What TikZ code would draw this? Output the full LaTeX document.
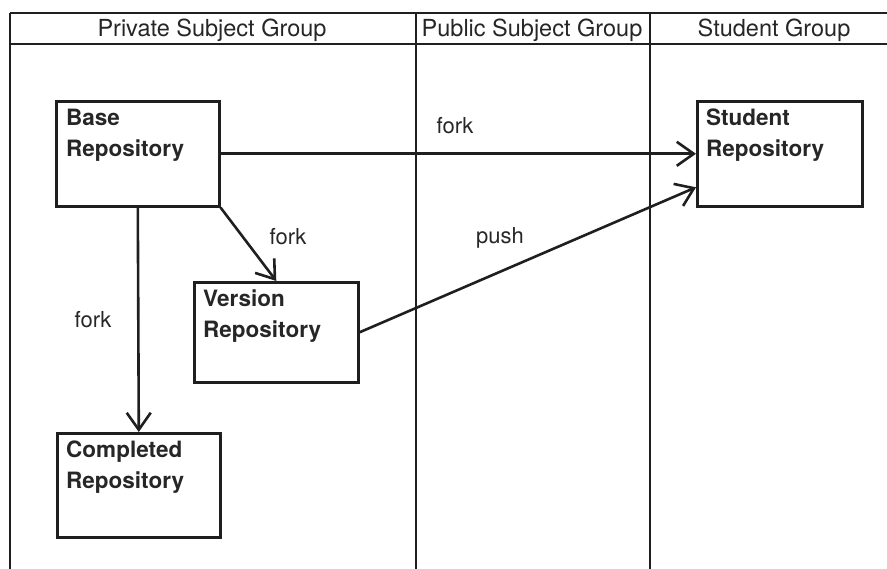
\documentclass[tikz,border=0pt]{standalone}
\usepackage{fontspec}
\setmainfont{TeX Gyre Heros}
\usetikzlibrary{arrows.meta}
\begin{document}
\begin{tikzpicture}[x=1pt,y=1pt,
  frame/.style={line width=2.4pt, draw=black!88},
  repobox/.style={draw=black!88, line width=2.6pt, rectangle, inner sep=0pt, anchor=north west},
  repotext/.style={anchor=north west, align=left, inner sep=0pt, font=\fontsize{22.5}{31}\selectfont\bfseries, text=black!85},
  head/.style={font=\fontsize{23.5}{25}\selectfont, text=black!85, inner sep=0pt},
  lbl/.style={font=\fontsize{22}{25}\selectfont, text=black!85, inner sep=0pt},
  conn/.style={draw=black!88, line width=2.6pt, -{Straight Barb[length=17pt,width=24pt,line width=2.6pt]}}
]
\useasboundingbox (0,0) rectangle (887,-569);
% lanes
\coordinate (tl) at (10,-13);
\coordinate (tr) at (887,-13);
\coordinate (hl) at (10,-44);
\coordinate (hr) at (887,-44);
\coordinate (bl) at (10,-569);
\coordinate (d1t) at (416,-13);
\coordinate (d1b) at (416,-569);
\coordinate (d2t) at (650,-13);
\coordinate (d2b) at (650,-569);
\draw[frame] (tl) -- (tr);
\draw[frame] (hl) -- (hr);
\draw[frame] (tl) -- (bl);
\draw[frame] (d1t) -- (d1b);
\draw[frame] (d2t) -- (d2b);
\node[head] (h1) at (212,-30) {Private Subject Group};
\node[head] (h2) at (532,-30) {Public Subject Group};
\node[head] (h3) at (774,-30) {Student Group};
% boxes
\node[repobox, minimum width=163pt, minimum height=105pt] (base) at (55,-100) {};
\node[repotext] (baset) at (66,-109) {Base\\Repository};
\node[repobox, minimum width=164pt, minimum height=100pt] (ver) at (193,-281) {};
\node[repotext] (vert) at (203,-290) {Version\\Repository};
\node[repobox, minimum width=165pt, minimum height=105pt] (stu) at (696,-100) {};
\node[repotext] (stut) at (706,-109) {Student\\Repository};
\node[repobox, minimum width=163pt, minimum height=104pt] (comp) at (56,-432) {};
\node[repotext] (compt) at (66,-441) {Completed\\Repository};
% connectors
\draw[conn] (base.east) -- (stu.west);
\draw[conn] (base.south east) -- (ver.north);
\draw[conn] (base.south) -- (comp.north);
\draw[conn] (ver.east) -- ([yshift=-33.5pt]stu.west);
\node[lbl] (l1) at (455,-126) {fork};
\node[lbl] (l2) at (288,-237) {fork};
\node[lbl] (l3) at (93,-320) {fork};
\node[lbl] (l4) at (500,-238) {push};
\end{tikzpicture}
\end{document}
